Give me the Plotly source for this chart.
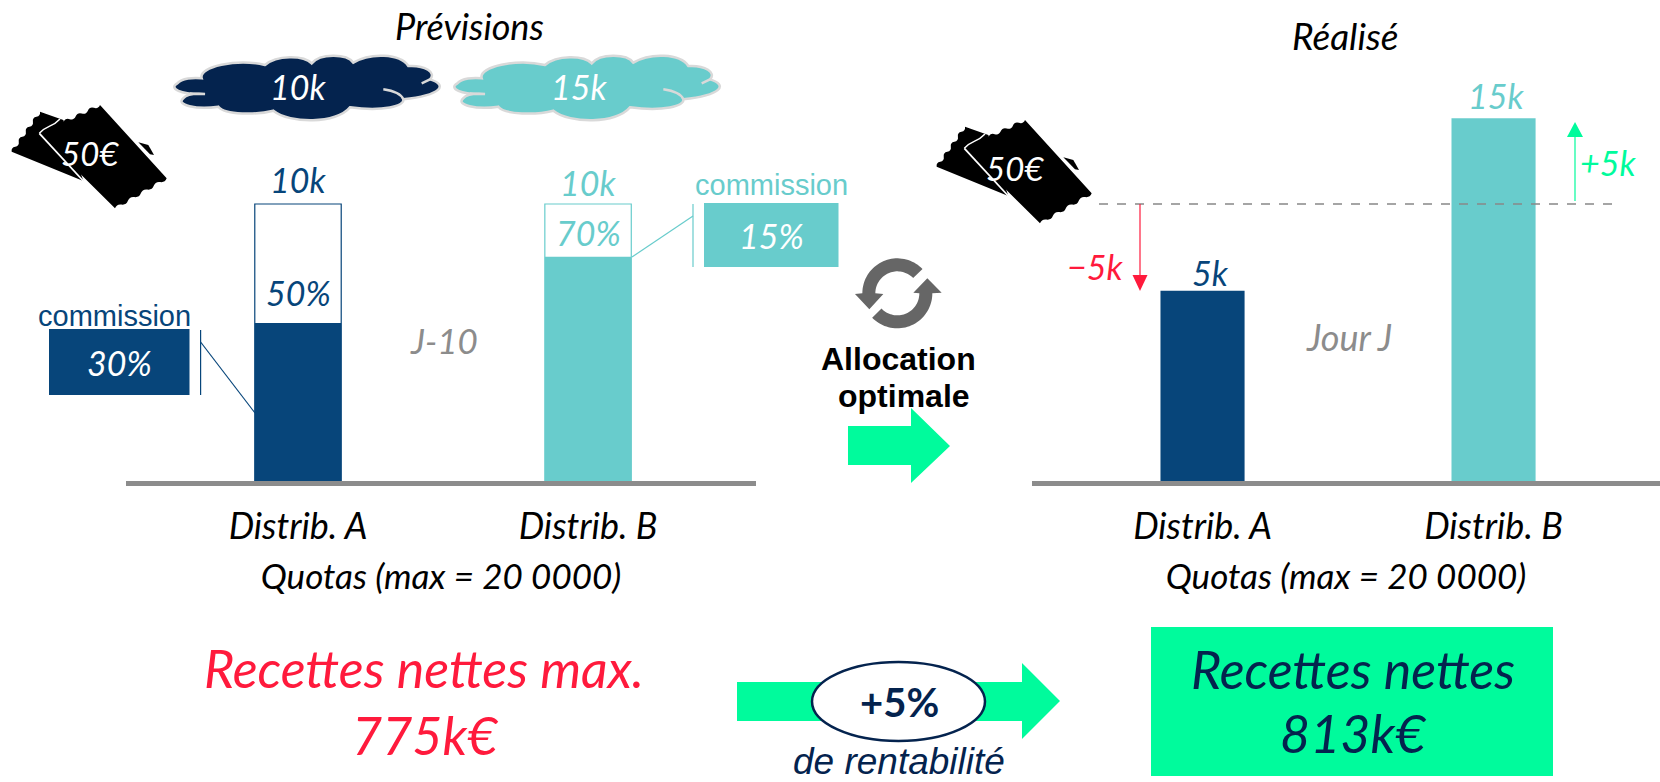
import numpy as np
import plotly.graph_objects as go

W, H = 1660, 782

# ---- data
categories = ["Distrib. A", "Distrib. B"]
forecast_quota = [10000, 10000]      # outlined bars
forecast_fill = [5700, 8100]         # filled part, as drawn
actual_height = [6870, 13100]        # bars of the "Réalisé" panel, as drawn
forecast_labels = ["10k", "10k"]
forecast_pct = ["50%", "70%"]
actual_labels = ["5k", "15k"]
commission_labels = ["30%", "15%"]
cloud_labels = ["10k", "15k"]
axis_title = "Quotas (max = 20 0000)"

NAVY = "#07457A"
DARK = "#04234E"
TEAL = "#68CCCC"
GREEN = "#00FB9C"
RED = "#FF1A3C"
GREY = "#8C8C8C"
NARROW = "Lato, sans-serif"
SANS = "Liberation Sans, Arial, sans-serif"


def px(x):
    return x / W


def py(y):
    return 1 - y / H


BASE_Y = 481
UNIT = 10000 / (481 - 204)  # value per pixel
TOP_Y = 100
yrange = [0, (BASE_Y - TOP_Y) * UNIT]
ydom = [py(BASE_Y), py(TOP_Y)]

fig = go.Figure()
fig.add_bar(x=categories, y=forecast_quota, width=0.298, xaxis="x", yaxis="y",
            marker=dict(color="white", line=dict(color=[NAVY, TEAL], width=1.2)), showlegend=False)
fig.add_bar(x=categories, y=forecast_fill, width=0.298, xaxis="x", yaxis="y",
            marker=dict(color=[NAVY, TEAL], line=dict(width=0)), showlegend=False)
fig.add_bar(x=categories, y=actual_height, width=0.289, xaxis="x2", yaxis="y2",
            marker=dict(color=[NAVY, TEAL], line=dict(width=0)), showlegend=False)

shapes = []
annotations = []


def text(x, y, s, size=34, color="black", family=NARROW, style="italic", weight="normal"):
    annotations.append(dict(x=px(x), y=py(y), xref="paper", yref="paper", text=s, showarrow=False,
                            xanchor="center", yanchor="middle",
                            font=dict(size=size, color=color, family=family, style=style, weight=weight)))


def path(d, fill=None, line=None, lw=0):
    s = dict(type="path", path=d, xref="paper", yref="paper", line=dict(width=lw, color=line or "rgba(0,0,0,0)"))
    if fill:
        s["fillcolor"] = fill
    shapes.append(s)


def P(x, y):
    return f"{px(x):.5f},{py(y):.5f}"


def poly(points, fill=None, line=None, lw=0, close=True):
    d = "M" + " L".join(P(*p) for p in points) + (" Z" if close else "")
    path(d, fill, line, lw)


def seg(x0, y0, x1, y1, color, lw=1.2, dash=None):
    shapes.append(dict(type="line", xref="paper", yref="paper", x0=px(x0), y0=py(y0), x1=px(x1), y1=py(y1),
                       line=dict(color=color, width=lw, dash=dash)))


def rect(x0, y0, x1, y1, fill):
    shapes.append(dict(type="rect", xref="paper", yref="paper", x0=px(x0), y0=py(y0), x1=px(x1), y1=py(y1),
                       fillcolor=fill, line=dict(width=0)))


# ---- clouds
CLOUD = [((95, 85), None),
         ((285, 45), (85, 50, 200, 25)), ((425, 40), (320, 15, 400, 15)), ((550, 38), (450, 10, 530, 10)),
         ((715, 48), (600, 8, 690, 10)), ((780, 88), (765, 45, 800, 68)), ((700, 148), (835, 105, 815, 135)),
         ((540, 172), (705, 168, 640, 185)), ((310, 182), (500, 222, 360, 222)), ((145, 170), (260, 195, 165, 195)),
         ((40, 145), (80, 180, 15, 165)), ((105, 132), (50, 132, 80, 130)), ((22, 100), (30, 135, -5, 115)),
         ((95, 85), (35, 85, 70, 82))]


def cloud(dx, fill, label, tx):
    T = lambda a, b: P(170 + dx + a / 3, 50 + b / 3)
    d = "M" + T(*CLOUD[0][0])
    for pt, c in CLOUD[1:]:
        d += f" C{T(c[0], c[1])} {T(c[2], c[3])} {T(*pt)}"
    d += " Z"
    path(d, fill, "#D9D9D9", 2.5)
    path(f"M{T(640, 118)} Q{T(690, 125)} {T(700, 148)}", None, "#D9D9D9", 2.5)
    path(f"M{T(755, 100)} L{T(780, 88)}", None, "#D9D9D9", 2.5)
    path(f"M{T(105, 132)} L{T(60, 130)}", None, "#D9D9D9", 2)
    text(tx, 87, label, color="white")


cloud(0, DARK, cloud_labels[0], 298)
cloud(280, TEAL, cloud_labels[1], 579)


# ---- tickets
def ticket(ox, oy, tx, ty):
    T = lambda a, b: P(ox + a / 3, oy + 95 + b / 3)

    def wave(p0, p1, n, depth):
        p0, p1 = np.array(p0, float), np.array(p1, float)
        v = p1 - p0
        nrm = np.array([-v[1], v[0]]) / np.hypot(*v)
        out = ""
        for i in range(n):
            a = p0 + v * i / n
            m = p0 + v * (i + 0.5) / n
            b = p0 + v * (i + 1) / n
            out += f" Q{T(*((a + m) / 2 - nrm * depth))} {T(*m)}"
            out += f" Q{T(*((m + b) / 2 + nrm * depth))} {T(*b)}"
        return out

    # rear stub
    path("M" + T(35, 170) + wave((35, 170), (120, 50), 4, 9) + f" L{T(190, 75)} L{T(250, 258)} Z", "black")
    path(f"M{T(415, 142)} L{T(445, 150)} L{T(462, 180)} L{T(450, 178)} Z", "black")
    # front part
    path("M" + T(300, 30) + f" L{T(500, 250)}" + wave((500, 250), (345, 340), 4, 9) + f" L{T(118, 115)}"
         + wave((118, 115), (300, 30), 5, 9) + " Z", "black")
    # perforation
    path("M" + T(118, 115) + wave((118, 115), (180, 72), 1, 4), None, "white", 1.5)
    path(f"M{T(118, 115)} L{T(250, 258)}", None, "white", 1.8)
    text(tx, ty, "50€", size=33, color="white")


ticket(0, 0, 90, 153)
ticket(925, 15, 1015, 168)


# ---- refresh icon
def arc(cx, cy, r, a0, a1):
    return [(cx + r * np.cos(np.radians(t)), cy + r * np.sin(np.radians(t))) for t in np.linspace(a0, a1, 40)]


def refresh():
    cx, cy = 172, 130
    t = lambda pts: [(840 + a / 3, 250 + b / 3) for a, b in pts]
    top = arc(cx, cy, 105, -44, -180) + [(45, 132), (88, 178), (130, 132)] + arc(cx, cy, 66, -180, -44)
    bot = arc(cx, cy, 105, 136, 0) + [(305, 128), (262, 85), (220, 128)] + arc(cx, cy, 66, 0, 136)
    poly(t(top), "#666666")
    poly(t(bot), "#666666")


refresh()

# ---- big arrows
poly([(848, 426), (911, 426), (911, 408), (950, 446), (911, 483), (911, 465), (848, 465)], GREEN)
poly([(737, 682), (1022, 682), (1022, 663), (1060, 701), (1022, 739), (1022, 721), (737, 721)], GREEN)
shapes.append(dict(type="circle", xref="paper", yref="paper", x0=px(812), x1=px(985), y0=py(662), y1=py(741),
                   fillcolor="white", line=dict(color=DARK, width=2.5)))

# ---- commission boxes
rect(49, 329, 189.5, 395, NAVY)
seg(200.6, 330, 200.6, 395, NAVY)
seg(200.6, 342, 255, 413, NAVY)
rect(704, 203, 838.5, 267, TEAL)
seg(693, 204, 693, 267, TEAL)
seg(693, 216, 632, 257, TEAL)
rect(1151, 627, 1553, 776, GREEN)

# ---- "réalisé" gap markers
seg(1099, 204, 1615, 204, "#888888", 1.5, "dash")
seg(1140, 204, 1140, 280, RED, 1.2)
poly([(1132.5, 275), (1147.5, 275), (1140, 291)], RED)
seg(1575, 201, 1575, 132, GREEN, 1.2)
poly([(1567, 137), (1583, 137), (1575, 122)], GREEN)

# ---- texts
text(469, 26, "Prévisions", size=36)
text(1345, 35, "Réalisé", size=37)
text(298, 180, forecast_labels[0], color=NAVY)
text(588, 183, forecast_labels[1], color=TEAL)
text(298, 293, forecast_pct[0], color=NAVY)
text(588, 233, forecast_pct[1], color=TEAL)
text(114, 316, "commission", size=29, color=NAVY, family=SANS, style="normal")
text(771, 185, "commission", size=29, color=TEAL, family=SANS, style="normal")
text(119, 362, commission_labels[0], color="white")
text(771, 235, commission_labels[1], color="white")
text(444, 340, "J-10", size=35, color=GREY)
text(1349, 337, "Jour J", size=36, color=GREY)
text(1210, 273, actual_labels[0], color=NAVY)
text(1496, 95, actual_labels[1], color=TEAL)
text(1095, 267, "−5k", color=RED)
text(1608, 163, "+5k", color=GREEN)
text(898, 359, "Allocation", size=32, family=SANS, style="normal", weight="bold")
text(904, 396, "optimale", size=32, family=SANS, style="normal", weight="bold")
text(899, 702, "+5%", size=40, color=DARK, style="normal", weight="bold")
text(899, 761, "de rentabilité", size=37, color=DARK, family=SANS)
text(424, 668, "Recettes nettes max.", size=52, color=RED)
text(425, 735, "775k€", size=52, color=RED)
text(1353, 669, "Recettes nettes", size=52, color=DARK)
text(1353, 733, "813k€", size=52, color=DARK)

tickfont = dict(size=36, family=NARROW, style="italic", color="black")
titlefont = dict(size=35, family=NARROW, style="italic", color="black")


def xaxis(dom, rng, anchor):
    return dict(domain=dom, range=rng, anchor=anchor, type="category", showline=True, linecolor=GREY, linewidth=4.5,
                showgrid=False, zeroline=False, ticks="outside", ticklen=10, tickcolor="rgba(0,0,0,0)",
                tickfont=tickfont, automargin=False,
                title=dict(text=axis_title, font=titlefont, standoff=20))


def yaxis(anchor):
    return dict(domain=ydom, range=yrange, anchor=anchor, visible=False, fixedrange=True)


fig.update_layout(
    width=W, height=H, autosize=False, margin=dict(l=0, r=0, t=0, b=0),
    paper_bgcolor="white", plot_bgcolor="rgba(0,0,0,0)", barmode="overlay", showlegend=False,
    xaxis=xaxis([px(126), px(756)], [-0.593, 1.579], "y"),
    yaxis=yaxis("x"),
    xaxis2=xaxis([px(1032), 1], [-0.586, 1.572], "y2"),
    yaxis2=yaxis("x2"),
    shapes=shapes, annotations=annotations,
)

fig.write_html("out.html", config=dict(displayModeBar=False),
               post_script="document.body.style.margin='0';document.body.style.overflow='hidden';")
